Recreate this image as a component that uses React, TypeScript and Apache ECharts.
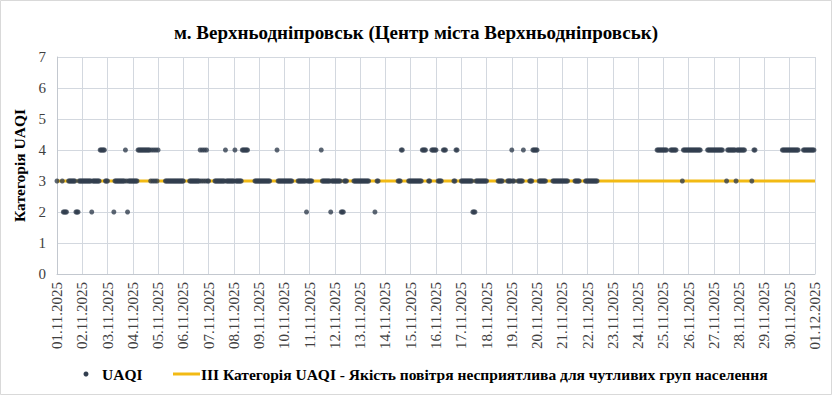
import React, { useEffect, useRef } from "react";
import * as echarts from "echarts";

const chartTitle = "м. Верхньодніпровськ (Центр міста Верхньодніпровськ)";
const yAxisName = "Категорія UAQI";
const seriesNames = [
  "UAQI",
  "III Категорія UAQI - Якість повітря несприятлива для чутливих груп населення",
];
const thresholdValue = 3;
const yMin = 0;
const yMax = 7;

const dayLabels = [
  "01.11.2025", "02.11.2025", "03.11.2025", "04.11.2025", "05.11.2025",
  "06.11.2025", "07.11.2025", "08.11.2025", "09.11.2025", "10.11.2025",
  "11.11.2025", "12.11.2025", "13.11.2025", "14.11.2025", "15.11.2025",
  "16.11.2025", "17.11.2025", "18.11.2025", "19.11.2025", "20.11.2025",
  "21.11.2025", "22.11.2025", "23.11.2025", "24.11.2025", "25.11.2025",
  "26.11.2025", "27.11.2025", "28.11.2025", "29.11.2025", "30.11.2025",
  "01.12.2025",
];

// Hourly UAQI category per day (24 chars = hours 00..23), "-" = no data
const hourlyUAQI = [
  "3----32222-3333333222333",
  "333333333233333334444433",
  "3-----233333333334323333",
  "333334444444444443434343",
  "4------33333333333333333",
  "3-----333333333343434343",
  "3-----333333333343333333",
  "34333333444444------3333",
  "33333333333------4333333",
  "33333333-----33333333233",
  "333--------4333333332333",
  "333333222333------333333",
  "333333333-----2-33------",
  "------------33344-----33",
  "333333333334444--33-4444",
  "4-3333-444-------3344---",
  "333333333332223333333333",
  "3----------33333----3333",
  "433---333334-----3334444",
  "4-3333333------333333333",
  "333333------33333-----33",
  "3333333333--------------",
  "------------------------",
  "------------------444444",
  "4444---444444-----344444",
  "444444444444------444444",
  "444444444---344444444344",
  "444444------3-44--------",
  "-----------------4444444",
  "444444444----44444444444",
];

const HOURS_PER_DAY = 24;

function buildPoints(): number[][] {
  const pts: number[][] = [];
  hourlyUAQI.forEach((day, d) => {
    for (let h = 0; h < day.length; h++) {
      const c = day[h];
      if (c !== "-") pts.push([d * HOURS_PER_DAY + h, Number(c)]);
    }
  });
  return pts;
}

const FONT = "Liberation Serif";
const DOT = "#323E4F";
const GOLD = "#F2BA14";

export default function App() {
  const ref = useRef<HTMLDivElement>(null);
  useEffect(() => {
    if (!ref.current) return;
    const chart = echarts.init(ref.current, undefined, { renderer: "svg" });
    const xMax = (dayLabels.length - 1) * HOURS_PER_DAY;
    chart.setOption({
      animation: false,
      backgroundColor: "#ffffff",
      textStyle: { fontFamily: FONT },
      title: {
        text: chartTitle,
        left: "center",
        top: 18,
        textStyle: { fontFamily: FONT, fontWeight: "bold", fontSize: 19, color: "#000000" },
      },
      grid: { left: 57, right: 17, top: 57, bottom: 121 },
      xAxis: {
        type: "value",
        min: 0,
        max: xMax,
        interval: HOURS_PER_DAY,
        axisLine: { show: true, lineStyle: { color: "#c3c8cf", width: 1 } },
        axisTick: { show: false },
        splitLine: { show: true, lineStyle: { color: "#d3d8df", width: 1 } },
        axisLabel: {
          rotate: 90,
          margin: 8,
          fontFamily: FONT,
          fontSize: 15,
          color: "#404040",
          formatter: (v: number) => dayLabels[Math.round(v / HOURS_PER_DAY)] ?? "",
        },
      },
      yAxis: {
        type: "value",
        min: yMin,
        max: yMax,
        interval: 1,
        name: yAxisName,
        nameLocation: "middle",
        nameRotate: 90,
        nameGap: 22,
        nameTextStyle: { fontFamily: FONT, fontWeight: "bold", fontSize: 15.5, color: "#000000" },
        axisLine: { show: true, lineStyle: { color: "#c3c8cf" } },
        axisTick: { show: false },
        splitLine: { show: true, lineStyle: { color: "#d3d8df", width: 1 } },
        axisLabel: { fontFamily: FONT, fontSize: 15, color: "#404040", margin: 11 },
      },
      series: [
        {
          name: seriesNames[1],
          type: "line",
          data: [
            [0, thresholdValue],
            [xMax, thresholdValue],
          ],
          showSymbol: false,
          silent: true,
          lineStyle: { color: GOLD, width: 3 },
          z: 1,
        },
        {
          name: seriesNames[0],
          type: "scatter",
          data: buildPoints(),
          symbolSize: 5,
          itemStyle: { color: DOT },
          z: 2,
        },
      ],
      graphic: [
        {
          type: "rect",
          shape: { x: 0.5, y: 0.5, width: 831, height: 394 },
          style: { fill: "none", stroke: "#d9d9d9", lineWidth: 1 },
          silent: true,
        },
        { type: "circle", shape: { cx: 86, cy: 374, r: 2.5 }, style: { fill: DOT } },
        {
          type: "text",
          x: 102,
          y: 374,
          style: {
            text: seriesNames[0],
            fontFamily: FONT,
            fontWeight: "bold",
            fontSize: 15.5,
            fill: "#000000",
            verticalAlign: "middle",
          },
        },
        {
          type: "line",
          shape: { x1: 173, y1: 374, x2: 200, y2: 374 },
          style: { stroke: GOLD, lineWidth: 3 },
        },
        {
          type: "text",
          x: 201,
          y: 374,
          style: {
            text: seriesNames[1],
            fontFamily: FONT,
            fontWeight: "bold",
            fontSize: 15.5,
            fill: "#000000",
            verticalAlign: "middle",
          },
        },
      ],
    });
    return () => chart.dispose();
  }, []);
  return (
    <div
      ref={ref}
      style={{ position: "absolute", left: 0, top: 0, width: 832, height: 395 }}
    />
  );
}
